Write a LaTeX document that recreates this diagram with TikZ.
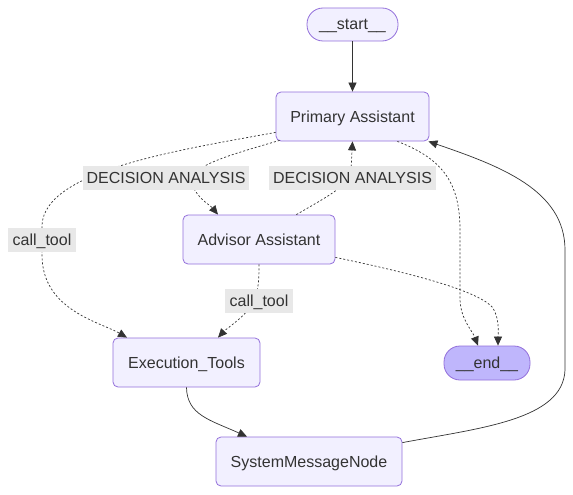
\documentclass[tikz,border=0pt]{standalone}
\usepackage{fontspec}
\setmainfont{Liberation Sans}
\usetikzlibrary{arrows.meta}
\definecolor{nodefill}{HTML}{F2F0FF}
\definecolor{nodedraw}{HTML}{9370DB}
\definecolor{endfill}{HTML}{BFB6FC}
\definecolor{txt}{HTML}{333333}
\definecolor{lblfill}{HTML}{E8E8E8}
\tikzset{
  box/.style={draw=nodedraw, fill=nodefill, rounded corners=5pt, line width=0.8pt,
    text=txt, font=\fontsize{16}{18}\selectfont, inner sep=0pt,
    text height=14.5pt, text depth=3.5pt},
  pill/.style={box, rounded corners=16pt},
  lbl/.style={fill=lblfill, text=txt, font=\fontsize{16}{18}\selectfont, inner sep=0pt,
    minimum height=24pt, text height=14.5pt, text depth=3.5pt},
  conn/.style={draw=txt, line width=0.7pt, -{Triangle[length=9pt,width=8pt]}},
  dconn/.style={conn, dash pattern=on 2pt off 2pt},
}
\begin{document}
\begin{tikzpicture}[x=1pt,y=-1pt]
\useasboundingbox (0,0) rectangle (573,495);
\fill[white] (0,0) rectangle (573,495);
% nodes
\node[pill, minimum width=91pt, minimum height=33pt] (st) at (352.5,24.5) {\_\_start\_\_};
\node[box, minimum width=153pt, minimum height=49pt] (pa) at (352.5,116.5) {Primary Assistant};
\node[box, minimum width=152pt, minimum height=49pt] (aa) at (259,239.5) {Advisor Assistant};
\node[box, minimum width=147pt, minimum height=49pt] (et) at (186.5,362.5) {Execution\_Tools};
\node[pill, fill=endfill, minimum width=86pt, minimum height=34pt] (en) at (487,363) {\_\_end\_\_};
\node[box, minimum width=186pt, minimum height=49pt] (sm) at (309,461.5) {SystemMessageNode};
% connectors
\draw[conn] (st) -- (pa);
\draw[dconn] (pa.south west) ++(4,-1) .. controls (230,155) and (193,165) .. (192,180)
  .. controls (192,195) and (210,205) .. (aa.north west -| 218,0);
\draw[dconn] (pa.south west) ++(0,-9) .. controls (180,150) and (45,170) .. (42,225)
  -- (42,255) .. controls (42,310) and (100,322) .. (et.north west -| 127,0);
\draw[dconn] (aa.north east) ++(-39,0) .. controls (330,195) and (350,185) .. (351,170)
  -- (pa.south);
\draw[dconn] (aa.south) .. controls (259,285) and (258,295) .. (250,308)
  .. controls (240,320) and (225,330) .. (et.north east -| 218,0);
\draw[dconn] (pa.south east) ++(-32,0) .. controls (440,158) and (460,180) .. (460,230)
  -- (460,300) .. controls (461,320) and (472,330) .. (en.north west -| 478,0);
\draw[dconn] (aa.south east) ++(0,-7) .. controls (420,275) and (480,292) .. (493,308)
  .. controls (500,320) and (498,335) .. (en.north west -| 498,0);
\draw[conn] (et.south) .. controls (187,415) and (210,420) .. (sm.north west -| 247,0);
\draw[conn] (sm.north east) ++(0,6) .. controls (480,428) and (563,420) .. (565,370)
  -- (565,250) .. controls (565,190) and (500,166) .. ([xshift=-1pt]pa.south east);
% labels
\node[lbl, minimum width=166pt] (l1) at (166,178) {DECISION ANALYSIS};
\node[lbl, minimum width=167pt] (l2) at (352.5,178) {DECISION ANALYSIS};
\node[lbl, minimum width=68pt] (l3) at (42,240) {call\_tool};
\node[lbl, minimum width=68pt] (l4) at (259,301) {call\_tool};
\end{tikzpicture}
\end{document}
